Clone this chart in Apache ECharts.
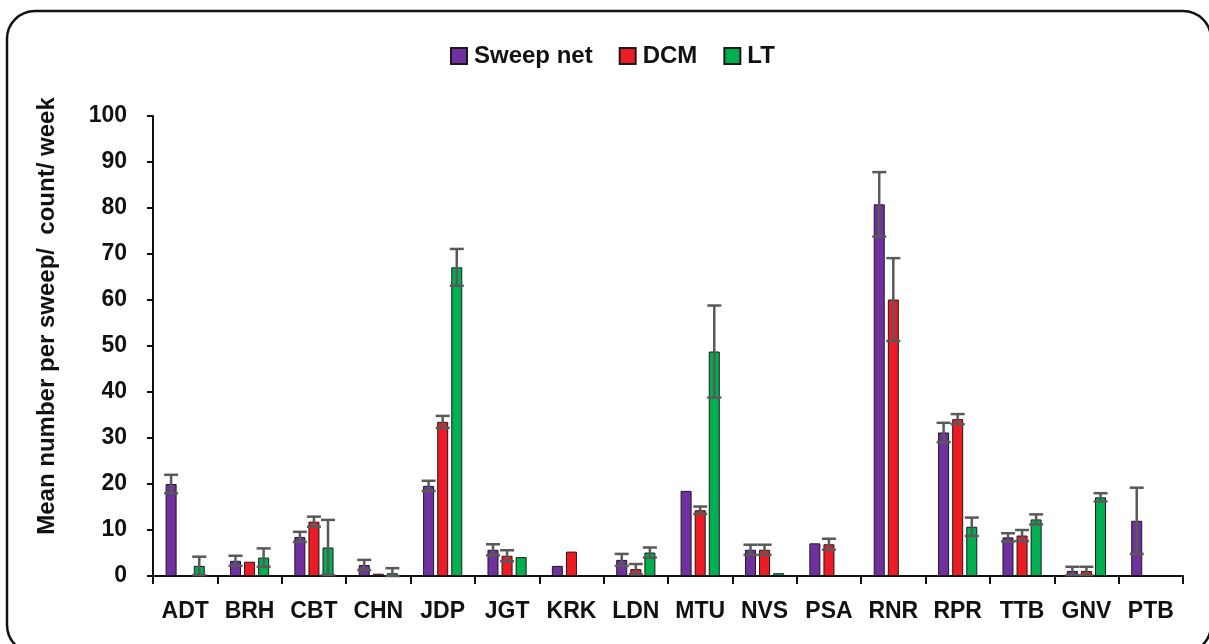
<!DOCTYPE html>
<html>
<head>
<meta charset="utf-8">
<script src="https://cdn.jsdelivr.net/npm/echarts@6/dist/echarts.min.js"></script>
<style>
  html, body { margin: 0; padding: 0; background: #fff; }
  #chart { width: 1209px; height: 644px; }
</style>
</head>
<body>
<div id="chart"></div>
<script>
// Sites sampled
const categories = ['ADT', 'BRH', 'CBT', 'CHN', 'JDP', 'JGT', 'KRK', 'LDN', 'MTU', 'NVS', 'PSA', 'RNR', 'RPR', 'TTB', 'GNV', 'PTB'];

// Mean catch per method (null = not recorded)
const sweepNet = [20.0, 3.3, 8.5, 2.4, 19.6, 5.7, 2.2, 3.5, 18.5, 5.7, 7.1, 80.8, 31.2, 8.4, 1.1, 12.0];
const dcm      = [null, 3.1, 11.8, 0.5, 33.5, 4.4, 5.3, 1.5, 14.3, 5.7, 6.9, 60.1, 34.1, 8.8, 1.1, null];
const lt       = [2.2, 4.0, 6.2, 0.6, 67.1, 4.1, null, 5.1, 48.8, 0.6, null, null, 10.7, 12.3, 17.1, null];

// Standard errors (0 = no bar drawn)
const sweepNetErr = [2.0, 1.1, 1.1, 1.1, 1.1, 1.2, 0, 1.3, 0, 1.1, 0, 7.0, 2.1, 0.9, 0.9, 7.2];
const dcmErr      = [0, 0, 1.1, 0, 1.3, 1.2, 0, 1.1, 0.8, 1.1, 1.2, 9.0, 1.1, 1.2, 0.9, 0];
const ltErr       = [2.0, 2.0, 6.0, 1.1, 4.0, 0, 0, 1.1, 10.0, 0, 0, 0, 2.0, 1.1, 0.9, 0];

// Axis ticks
const yMin = 0, yMax = 100, yStep = 10;

const seriesNames = ['Sweep net', 'DCM', 'LT'];
const seriesValues = [sweepNet, dcm, lt];
const seriesErrors = [sweepNetErr, dcmErr, ltErr];
const colors = ['#7030A0', '#ED1C24', '#00B050'];

const FONT = '"Liberation Sans", Arial, sans-serif';
const BAR_W = 11;
const BAR_GAP = 0.28;
const STEP = BAR_W * (1 + BAR_GAP);

const barSeries = seriesNames.map((name, k) => ({
  name: name,
  type: 'bar',
  barWidth: BAR_W,
  barGap: (BAR_GAP * 100) + '%',
  itemStyle: { color: colors[k], borderColor: '#1a1a1a', borderWidth: 1 },
  data: seriesValues[k],
  z: 2
}));

// Error bars with caps at both ends, aligned with each bar of the group
const errSeries = seriesNames.map((name, k) => ({
  type: 'custom',
  name: name + ' error',
  z: 5,
  silent: true,
  data: categories.map((c, i) => [i, seriesValues[k][i] == null ? 0 : seriesValues[k][i], seriesErrors[k][i]]),
  encode: { x: 0, y: 1 },
  renderItem: function (params, api) {
    const err = api.value(2);
    if (!err) return null;
    const v = api.value(1);
    const hi = api.coord([api.value(0), v + err]);
    const lo = api.coord([api.value(0), Math.max(0, v - err)]);
    const x = hi[0] + (k - 1) * STEP;
    const cap = 7;
    const style = { stroke: '#595959', lineWidth: 2.5 };
    return {
      type: 'group',
      children: [
        { type: 'line', shape: { x1: x, y1: hi[1], x2: x, y2: lo[1] }, style: style },
        { type: 'line', shape: { x1: x - cap, y1: hi[1], x2: x + cap, y2: hi[1] }, style: style },
        { type: 'line', shape: { x1: x - cap, y1: lo[1], x2: x + cap, y2: lo[1] }, style: style }
      ]
    };
  }
}));

const chart = echarts.init(document.getElementById('chart'));
chart.setOption({
  animation: false,
  backgroundColor: '#fff',
  color: colors,
  textStyle: { fontFamily: FONT },
  legend: {
    data: seriesNames,
    left: 445,
    top: 39,
    itemWidth: 16,
    itemHeight: 16,
    itemGap: 26,
    icon: 'rect',
    textStyle: { fontSize: 24, fontWeight: 'bold', color: '#111', fontFamily: FONT, padding: [0, 0, 0, 2] }
  },
  grid: { left: 153, right: 26, top: 116, bottom: 68, containLabel: false },
  xAxis: {
    type: 'category',
    data: categories,
    axisLine: { lineStyle: { color: '#111', width: 2 } },
    axisTick: { show: true, interval: 0, length: 8, lineStyle: { color: '#111', width: 2 } },
    axisLabel: { interval: 0, margin: 24, fontSize: 23, fontWeight: 'bold', color: '#111', fontFamily: FONT }
  },
  yAxis: {
    type: 'value',
    min: yMin,
    max: yMax,
    interval: yStep,
    splitLine: { show: false },
    axisLine: { show: true, lineStyle: { color: '#111', width: 2 } },
    axisTick: { show: true, length: 6, lineStyle: { color: '#111', width: 2 } },
    axisLabel: { margin: 26, fontSize: 23, fontWeight: 'bold', color: '#111', fontFamily: FONT }
  },
  graphic: [
    {
      type: 'rect',
      shape: { x: 7, y: 11, width: 1204, height: 642, r: 28 },
      style: { fill: 'none', stroke: '#111', lineWidth: 2.5 },
      silent: true,
      z: 0
    },
    {
      type: 'text',
      x: 47,
      y: 316,
      rotation: Math.PI / 2,
      style: {
        text: 'Mean number per sweep/  count/ week',
        font: 'bold 24px ' + FONT,
        fill: '#111',
        align: 'center',
        verticalAlign: 'middle'
      },
      silent: true
    }
  ],
  series: barSeries.concat(errSeries)
});
</script>
</body>
</html>
